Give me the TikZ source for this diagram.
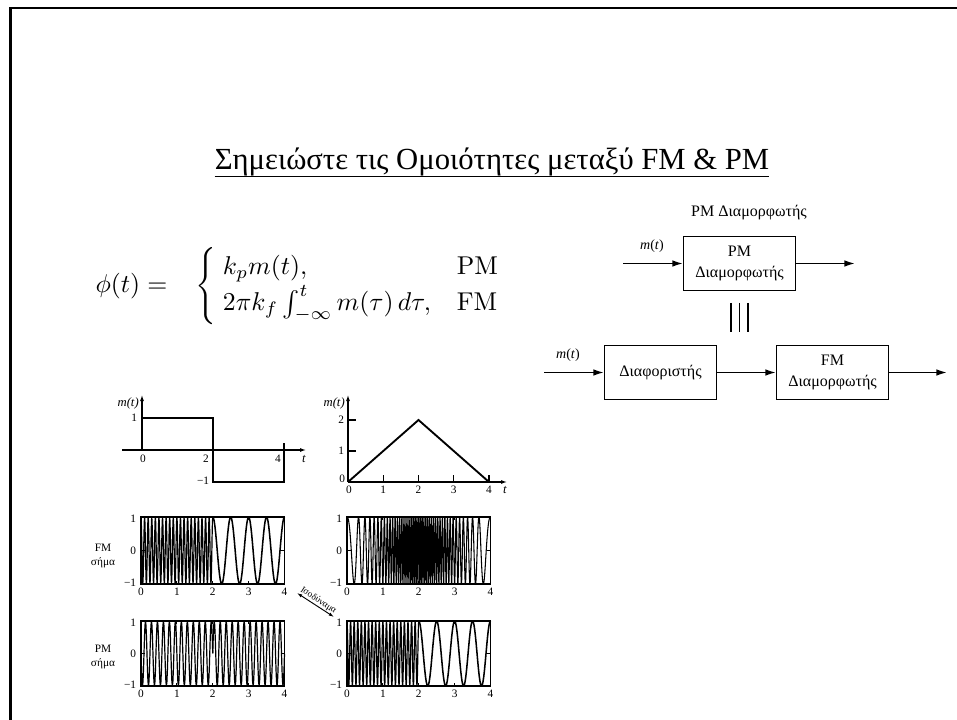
\documentclass[tikz,border=0pt]{standalone}
\usepackage{amsmath}
\usepackage[no-math]{fontspec}
\setmainfont{Liberation Serif}
\usetikzlibrary{arrows.meta}
\begin{document}
\begin{tikzpicture}[x=0.75pt,y=-0.75pt,
  sig/.style={line width=0.9pt, line join=round},
  slow/.style={line width=1.15pt, line join=round},
  pbox/.style={line width=1.3pt},
  ax/.style={line width=0.8pt},
  num/.style={font=\fontsize{8.5}{9}\selectfont, inner sep=0.5pt},
  lab/.style={font=\fontsize{8.5}{11}\selectfont, align=center, inner sep=0pt},
  mtl/.style={font=\fontsize{9.5}{10}\selectfont\itshape, inner sep=0pt},
  blk/.style={draw, line width=0.8pt, minimum width=84pt, minimum height=41pt, align=center, font=\fontsize{12}{16}\selectfont, inner sep=1pt},
  conn/.style={line width=1.2pt, -{Latex[length=8pt,width=5pt]}},
  axarr/.style={ax, -{Latex[length=4.5pt,width=3pt]}}]
\useasboundingbox (0,0) rectangle (957,720);
% frame
\draw[line width=2.2pt] (10.5,720) -- (10.5,8) -- (957,8);
% title
\node[font=\fontsize{23}{26}\selectfont, inner sep=0pt, anchor=base] (title) at (492,170) {Σημειώστε τις Ομοιότητες μεταξύ FM \& PM};
\draw[line width=1pt] ([yshift=-5pt]title.base west) -- ([yshift=-5pt]title.base east);
% equation
\node[anchor=west, scale=1.93, inner sep=0pt] (eq) at (95,286) {$\phi(t) = \hspace{8pt}\left\{\;\renewcommand{\arraystretch}{1.15}\begin{array}{@{}l@{\hspace{10pt}}l@{}} k_p m(t), & \mathrm{PM}\\ 2\pi k_f \int_{-\infty}^{t} m(\tau)\,d\tau, & \mathrm{FM}\end{array}\right.$};
% block diagram
\node[font=\fontsize{12}{14}\selectfont] (pmlab) at (749,213) {PM Διαμορφωτής};
\node[blk] (pm) at (739.5,263.5) {PM\\Διαμορφωτής};
\coordinate (in1) at (623,263.5);
\coordinate (out1) at (855,263.5);
\draw[conn] (in1) -- (pm.west);
\draw[conn] (pm.east) -- (out1);
\node[font=\fontsize{10.5}{12}\selectfont, anchor=south] (m1) at (652,257) {\textit{m}(\textit{t})};
\foreach \xx in {731,739.5,748} \draw[line width=1.1pt] (\xx,303) -- (\xx,332);
\node[blk] (dif) at (660.5,372.5) {Διαφοριστής};
\node[blk] (fm) at (832.5,372.5) {FM\\Διαμορφωτής};
\coordinate (in2) at (544,372.5);
\coordinate (out2) at (947,372.5);
\draw[conn] (in2) -- (dif.west);
\draw[conn] (dif.east) -- (fm.west);
\draw[conn] (fm.east) -- (out2);
\node[font=\fontsize{10.5}{12}\selectfont, anchor=south] (m2) at (568,366) {\textit{m}(\textit{t})};
% ---- square wave m(t)
\coordinate (sq0) at (142,450);
\draw[axarr] (sq0) -- (142,395);
\draw[axarr] (122,450) -- (306,450);
\draw[line width=1.4pt] (142,450) -- (142,418) -- (213,418) -- (213,482) -- (284,482) -- (284,443);
\node[mtl, anchor=east] (sqm) at (139,403) {m(t)};
\node[num, anchor=east] (sq1) at (138,418) {1};
\node[num, anchor=north] (sqx0) at (143,454) {0};
\node[num, anchor=north] (sqx2) at (206,454) {2};
\node[num, anchor=north] (sqx4) at (278,454) {4};
\node[num, anchor=east] (sqm1) at (210,481) {−1};
\node[mtl, anchor=north] (sqt) at (304,455) {t};
% ---- triangle m(t)
\draw[axarr] (348,482) -- (348,395);
\draw[axarr] (348,482) -- (507,482);
\foreach \i in {1,2,3,4} {
  \draw[ax] (348+35.25*\i,482) -- ++(0,-7);
  \node[num, anchor=north] (tx\i) at (348+35.25*\i,485) {\i};
}
\draw[ax] (348,451) -- ++(8,0);
\draw[ax] (348,420) -- ++(8,0);
\draw[line width=1.4pt, line join=miter] (348,482) -- (418.5,420) -- (489,482);
\node[mtl, anchor=east] (trm) at (345,403) {m(t)};
\node[num, anchor=east] (ty1) at (345,451) {1};
\node[num, anchor=east] (ty2) at (345,420) {2};
\node[num, anchor=east] (ty0) at (346,479) {0};
\node[num, anchor=north] (tx0) at (349,485) {0};
\node[mtl, anchor=north] (trt) at (505,486) {t};
% ---- signal boxes: generic ticks and labels
\foreach \bx/\by/\nm in {141/517/A,141/621/B,347/517/C,347/621/D} {
  \pgfmathsetmacro{\bh}{\by==517 ? 67 : 65}
  \draw[pbox] (\bx,\by) rectangle (\bx+143.5,\by+\bh);
  \foreach \i in {1,2,3} {
    \draw[ax] (\bx+35.875*\i,\by+\bh) -- ++(0,-3);
    \draw[ax] (\bx+35.875*\i,\by) -- ++(0,3);
  }
  \draw[ax] (\bx,\by+\bh/2) -- ++(4,0);
  \draw[ax] (\bx+143.5,\by+\bh/2) -- ++(-4,0);
  \foreach \i in {0,1,2,3,4}
    \node[num, anchor=north] (\nm x\i) at (\bx+35.875*\i,\by+\bh+3) {\i};
  \node[num, anchor=east] (\nm y1) at (\bx-4,\by+2) {1};
  \node[num, anchor=east] (\nm y0) at (\bx-4,\by+\bh/2) {0};
  \node[num, anchor=east] (\nm ym) at (\bx-4,\by+\bh-1) {−1};
}
\node[lab] (fmsig) at (103,556) {FM\\σήμα};
\node[lab] (pmsig) at (103,657) {PM\\σήμα};
% FM of square (A)
\draw[sig] plot[domain=0:2, samples=241] ({141+35.875*\x},{550.5-33.5*cos(360*mod(10*\x,1))});
\draw[slow] plot[domain=2:4, samples=97] ({141+35.875*\x},{550.5-33.5*cos(360*mod(2*\x,1))});
% PM of square (B)
\draw[sig] plot[domain=0:2, samples=145] ({141+35.875*\x},{653.5-32.5*cos(360*mod(6*\x+0.25,1))});
\draw[sig] plot[domain=2:4, samples=145] ({141+35.875*\x},{653.5-32.5*cos(360*mod(6*\x-0.25,1))});
% FM of triangle (C)
\draw[sig, line width=0.8pt] plot[domain=0:2, samples=701] ({347+35.875*\x},{550.5-33.5*cos(360*mod(1.5*\x+5*\x*\x,1))});
\draw[sig, line width=0.8pt] plot[domain=2:4, samples=701] ({347+35.875*\x},{550.5-33.5*cos(360*mod(41.5*\x-5*\x*\x-40,1))});
% PM of triangle (D)
\draw[sig] plot[domain=0:2, samples=241] ({347+35.875*\x},{653.5-32.5*cos(360*mod(10*\x,1))});
\draw[slow] plot[domain=2:4, samples=97] ({347+35.875*\x},{653.5-32.5*cos(360*mod(2*\x,1))});
% equivalence arrow
\coordinate (e1) at (297,593);
\coordinate (e2) at (334,617);
\draw[line width=0.7pt, {Latex[length=4pt,width=2.5pt]}-{Latex[length=4pt,width=2.5pt]}] (e1) -- (e2) node[midway, sloped, above, inner sep=0.5pt, font=\fontsize{7}{8}\selectfont] (eqv) {Ισοδύναμα};
\end{tikzpicture}
\end{document}
